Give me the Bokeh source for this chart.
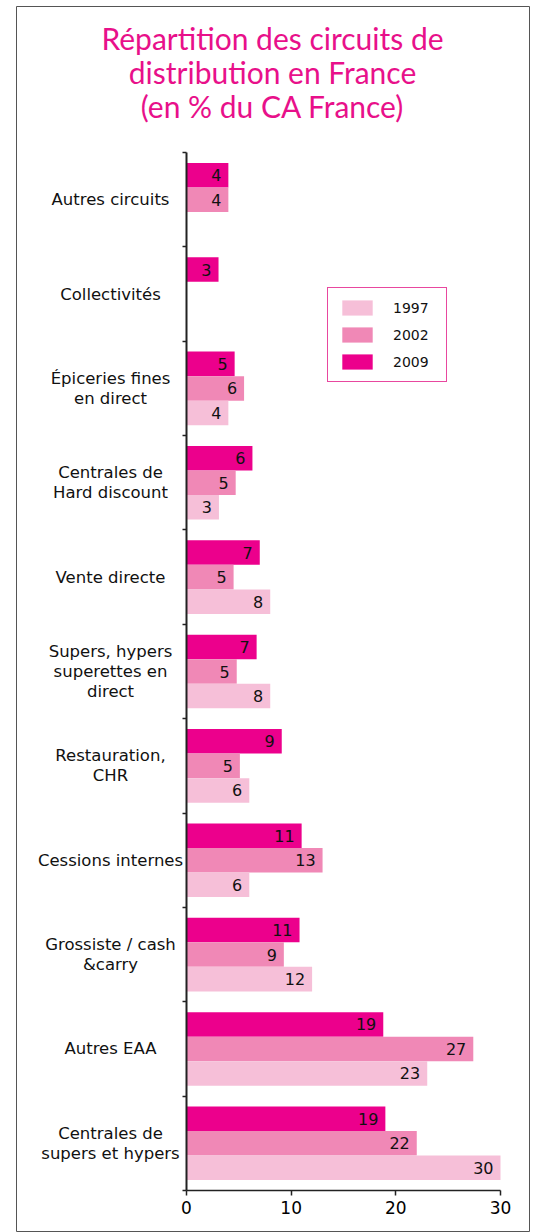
from bokeh.plotting import figure
from bokeh.models import Range1d, FixedTicker, Legend, LegendItem, ColumnDataSource
from bokeh.core.properties import value
from bokeh.embed import file_html
from bokeh.resources import INLINE

title_lines = ["Répartition des circuits de", "distribution en France", "(en % du CA France)"]
categories = ["Autres circuits", "Collectivités", "Épiceries fines\nen direct",
              "Centrales de\nHard discount", "Vente directe",
              "Supers, hypers\nsuperettes en\ndirect", "Restauration,\nCHR",
              "Cessions internes", "Grossiste / cash\n&carry", "Autres EAA",
              "Centrales de\nsupers et hypers"]
v1997 = [0, 0, 4.0, 3.1, 8.0, 8.0, 6.0, 6.0, 12.0, 23.0, 30.0]
v2002 = [4.0, 0, 5.5, 4.7, 4.5, 4.8, 5.1, 13.0, 9.3, 27.4, 22.0]
v2009 = [4.0, 3.06, 4.6, 6.3, 7.0, 6.7, 9.1, 11.0, 10.8, 18.8, 19.0]
l1997 = ["", "", "4", "3", "8", "8", "6", "6", "12", "23", "30"]
l2002 = ["4", "", "6", "5", "5", "5", "5", "13", "9", "27", "22"]
l2009 = ["4", "3", "5", "6", "7", "7", "9", "11", "11", "19", "19"]
x_ticks = [0, 10, 20, 30]

FONT = "DejaVu Sans"
n = len(categories)

# layout (page pixels; canvas origin observed at page (0, 0))
OX, OY = 0, 0
W, H = 530, 1232
ML, MR, MT, MB = 16, 1, 6, 0
frame_l, frame_r = OX + ML, OX + W - MR
frame_t, frame_b = OY + MT, OY + H - MB
ax_x0, ax_x30 = 186, 500          # page x of 0 and 30
ax_top, ax_bot = 152, 1190        # page y of the category band
px_x = (ax_x30 - ax_x0) / 30.0
px_y = (ax_bot - ax_top) / n

def px_to_x(px):
    return (px - ax_x0) / px_x

def py_to_y(py):
    return -0.5 + (py - ax_top) / px_y

p = figure(width=W, height=H, output_backend="svg", toolbar_location=None,
           x_range=Range1d(px_to_x(frame_l), px_to_x(frame_r)),
           y_range=Range1d(py_to_y(frame_b), py_to_y(frame_t)),
           min_border_left=ML, min_border_right=MR, min_border_top=MT,
           min_border_bottom=MB)
p.xgrid.visible = False
p.ygrid.visible = False
p.outline_line_color = "#555555"
p.outline_line_width = 1
p.background_fill_color = "white"
p.border_fill_color = "white"

bar_h = 0.26
renderers = {}
series = [("2009", v2009, l2009, "#EC008C", -bar_h),
          ("2002", v2002, l2002, "#F088B6", 0.0),
          ("1997", v1997, l1997, "#F6BFD8", bar_h)]
for name, vals, labs, color, off in series:
    ys = [i + off for i in range(n)]
    src = ColumnDataSource(dict(y=ys, right=vals))
    renderers[name] = p.hbar(y="y", left=0, right="right", height=bar_h, source=src,
                             fill_color=color, line_color=None)
    keep = [k for k in range(n) if labs[k] != ""]
    tsrc = ColumnDataSource(dict(x=[vals[k] for k in keep], y=[ys[k] for k in keep],
                                 t=[labs[k] for k in keep]))
    p.text(x="x", y="y", text="t", source=tsrc, text_align="right", text_baseline="middle",
           x_offset=-7, text_font=value(FONT), text_font_size="16px", text_color="#111111")

# axes (fixed inside the frame)
xa = p.xaxis[0]
xa.fixed_location = n - 0.5
xa.bounds = (x_ticks[0], x_ticks[-1])
xa.ticker = FixedTicker(ticks=x_ticks)
xa.major_tick_out = 5
xa.major_tick_in = 0
xa.minor_tick_out = 0
xa.minor_tick_in = 0
xa.axis_line_width = 1.5
xa.axis_line_color = "#222222"
xa.major_tick_line_color = "#222222"
xa.major_tick_line_width = 1.5
xa.major_label_text_font = FONT
xa.major_label_text_font_size = "17px"
xa.major_label_text_color = "black"
xa.major_label_standoff = 5

y_ticks = [i - 0.5 for i in range(n + 1)]
ya = p.yaxis[0]
ya.fixed_location = 0
ya.bounds = (-0.5, n - 0.5)
ya.ticker = FixedTicker(ticks=y_ticks)
ya.major_tick_out = 4
ya.major_tick_in = 0
ya.minor_tick_out = 0
ya.minor_tick_in = 0
ya.axis_line_width = 2
ya.axis_line_color = "#222222"
ya.major_tick_line_color = "#222222"
ya.major_tick_line_width = 1.5
ya.major_label_overrides = {t: "" for t in y_ticks}

# category labels (one text per line, centred)
line_step = 20 / px_y
cx, cy, ct = [], [], []
for i, cat in enumerate(categories):
    lines = cat.split("\n")
    for j, line in enumerate(lines):
        cx.append(0)
        cy.append(i + (j - (len(lines) - 1) / 2) * line_step)
        ct.append(line)
p.text(x="x", y="y", text="t", source=ColumnDataSource(dict(x=cx, y=cy, t=ct)),
       x_offset=110 - ax_x0, text_align="center", text_baseline="middle",
       text_font=value(FONT), text_font_size="16.5px", text_color="#111111")

# title
title_src = ColumnDataSource(dict(x=[px_to_x(272)] * 3,
                                  y=[py_to_y(37 + 34 * j) for j in range(3)],
                                  t=title_lines))
p.text(x="x", y="y", text="t", source=title_src, text_align="center",
       text_baseline="middle", text_font=value("Lato"), text_font_size="30px",
       text_color="#E8108A")

legend = Legend(items=[LegendItem(label="1997", renderers=[renderers["1997"]]),
                       LegendItem(label="2002", renderers=[renderers["2002"]]),
                       LegendItem(label="2009", renderers=[renderers["2009"]])],
                location=(327 - frame_l, frame_b - 382),
                padding=10, spacing=8, glyph_width=38, glyph_height=19, label_height=19,
                label_width=43, label_standoff=17, label_text_font=FONT,
                label_text_font_size="14px", label_text_color="#111111", margin=0)
legend.border_line_color = "#E8479F"
legend.border_line_alpha = 1.0
legend.border_line_width = 1.5
legend.background_fill_color = "white"
legend.background_fill_alpha = 1.0
p.add_layout(legend)

open("out.html", "w").write(file_html(p, INLINE))
